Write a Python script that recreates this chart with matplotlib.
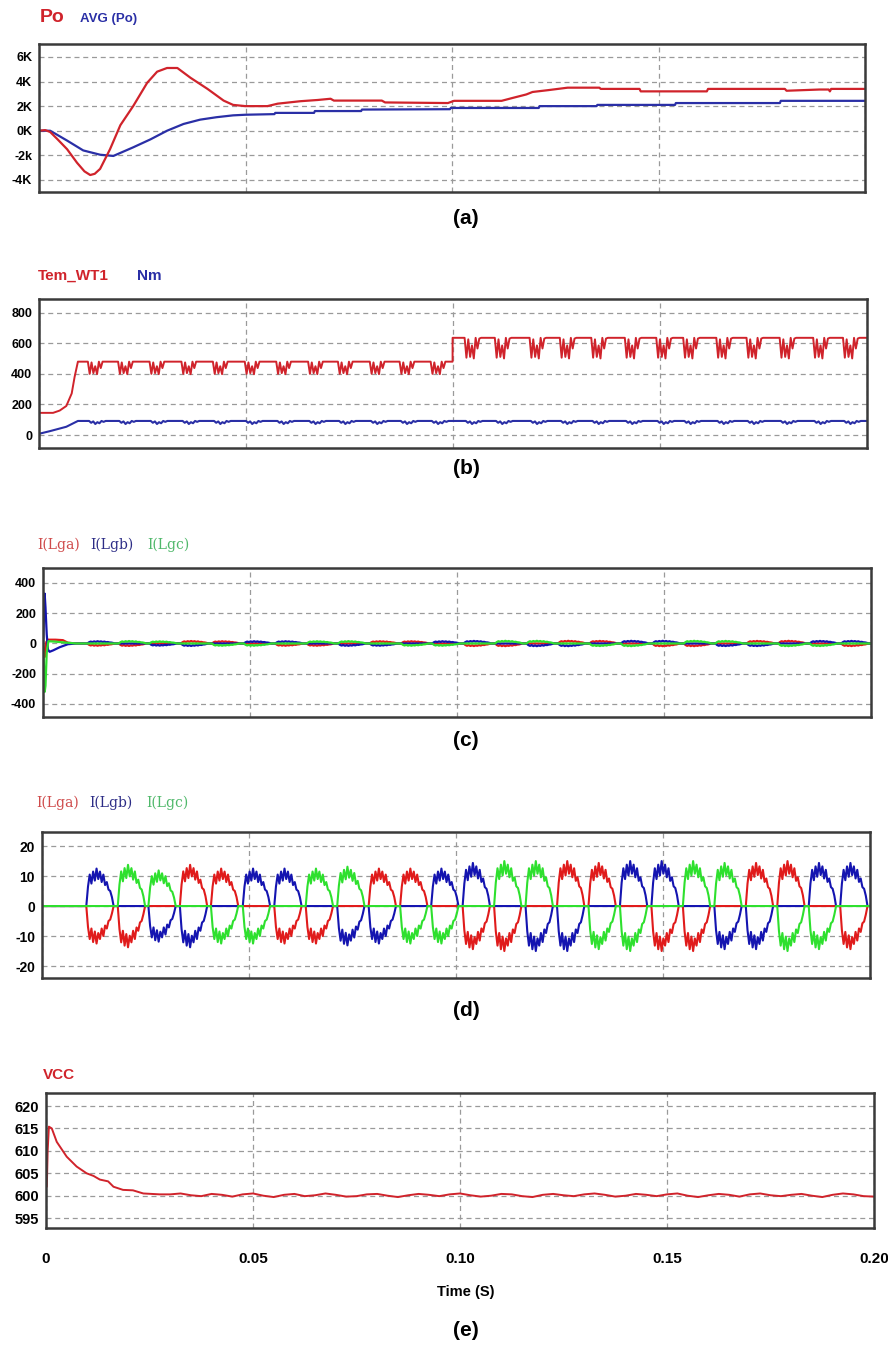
import numpy as np
import matplotlib
matplotlib.use("Agg")
import matplotlib.pyplot as plt

# ---------------- data ----------------
# (a) output power Po and its running average (W)
po_t = [0.0, 0.0015, 0.0027, 0.0045, 0.0068, 0.0092, 0.0110, 0.0124, 0.0135, 0.0148,
        0.0172, 0.0197, 0.0228, 0.0262, 0.0286, 0.0310, 0.0335, 0.0367, 0.0408, 0.0447,
        0.0470, 0.0500, 0.0553, 0.0578, 0.0633, 0.0675, 0.0706, 0.0714, 0.0830, 0.0838,
        0.0990, 0.1005, 0.1120, 0.1145, 0.1180, 0.1195, 0.1233, 0.1280, 0.1357, 0.1360,
        0.1454, 0.1457, 0.1617, 0.1620, 0.1806, 0.1810, 0.1890, 0.1912, 0.1915, 0.1918, 0.2000]
po_v = [0, 50, -100, -700, -1500, -2600, -3300, -3600, -3500, -3100,
        -1500, 450, 2000, 3900, 4800, 5100, 5100, 4300, 3400, 2450,
        2100, 2000, 2000, 2200, 2400, 2500, 2600, 2450, 2450, 2300,
        2250, 2430, 2430, 2650, 2950, 3150, 3300, 3500, 3500, 3400,
        3400, 3200, 3200, 3400, 3400, 3250, 3350, 3350, 3200, 3400, 3400]
avg_t = [0.0, 0.0027, 0.0068, 0.0107, 0.0148, 0.0180, 0.0228, 0.0270, 0.0310, 0.0350,
         0.0390, 0.0430, 0.0470, 0.0500, 0.0570, 0.0572, 0.0666, 0.0668, 0.0780, 0.0782,
         0.0995, 0.0997, 0.1210, 0.1212, 0.1350, 0.1352, 0.1540, 0.1542, 0.1794, 0.1796, 0.2000]
avg_v = [0, 0, -800, -1600, -1950, -2050, -1350, -700, 0, 550,
         900, 1100, 1250, 1300, 1350, 1450, 1450, 1600, 1600, 1720,
         1750, 1850, 1850, 2000, 2000, 2100, 2100, 2250, 2250, 2430, 2430]
a_ticks = [-4000, -2000, 0, 2000, 4000, 6000]
a_ticklabels = ["-4K", "-2k", "0K", "2K", "4K", "6K"]

# (b) electromagnetic torque Tem_WT1 and speed Nm
tem_start_t = [0.0, 0.0034, 0.0050, 0.0066, 0.0079, 0.0086, 0.0094]
tem_start_v = [145, 145, 160, 190, 272, 380, 480]
tem_levels = [480, 636]          # plateau before / after the step
tem_step_t = 0.0999
tem_burst_t = [0.0118, 0.0191, 0.0267, 0.0344, 0.0420, 0.0497, 0.0573, 0.0650, 0.0722,
               0.0799, 0.0871, 0.0946, 0.1028, 0.1101, 0.1185, 0.1258, 0.1334, 0.1415,
               0.1491, 0.1556, 0.1636, 0.1709, 0.1789, 0.1870, 0.1942]
tem_dip_pre = [0, -80, -5, -75, -30, -82, 0, -42, 0, 0]
tem_dip_post = [0, -130, -10, -125, -50, -135, 0, -70, -5, 0]
tem_burst_w = 0.0040
nm_start_t = [0.0, 0.0026, 0.0066, 0.0094]
nm_start_v = [8, 25, 54, 92]
nm_level = 92
nm_dip = [0, -12, -3, -20, -8, -15, 0, -6, 0]
b_ticks = [0, 200, 400, 600, 800]

# (c)/(d) three-phase currents: six-step bursts
burst_t = [0.0107, 0.0183, 0.0257, 0.0333, 0.0408, 0.0485, 0.0561, 0.0637, 0.0713,
           0.0789, 0.0865, 0.0940, 0.1016, 0.1092, 0.1168, 0.1244, 0.1320, 0.1396,
           0.1472, 0.1548, 0.1624, 0.1700, 0.1776, 0.1852, 0.1928]
burst_upper = "BGGRRBBGGRRBBGGRRBBGGRRBB"
burst_lower = "RRBBGGRRBBGGRRBBGGRRBBGGR"
burst_amp = [1.0, 1.1, 0.95, 1.1, 1.0, 1.0, 1.0, 1.0, 1.05, 1.0, 1.0, 1.0,
             1.15, 1.2, 1.2, 1.2, 1.15, 1.2, 1.2, 1.2, 1.15, 1.15, 1.2, 1.15, 1.15]
up_tpl = [0, 6.5, 10.5, 7.5, 11.5, 8.5, 12.5, 9, 11.5, 8, 10.5, 7, 8, 5.5, 5, 3, 0]
lo_tpl = [0, -7, -11, -7.5, -12, -8.5, -12.5, -9, -11, -7.5, -10, -6.5, -7.5, -5, -4.5, -2.5, 0]
burst_w = 0.0066
c_red_t = [0, 0.0002, 0.0004, 0.0008, 0.0012, 0.0030, 0.0048, 0.0060, 0.0080]
c_red_v = [0, -60, -90, 10, 25, 25, 22, 5, 0]
c_blue_t = [0, 0.0002, 0.0004, 0.0006, 0.0009, 0.0012, 0.0016, 0.0025, 0.0040, 0.0060, 0.0080]
c_blue_v = [0, 150, 330, 240, 60, -40, -55, -45, -25, -5, 0]
c_green_t = [0, 0.0002, 0.0004, 0.0006, 0.0009, 0.0013, 0.0030, 0.0060, 0.0080]
c_green_v = [0, -120, -320, -280, -60, 15, 12, 5, 0]
c_scale = 1.2
c_ticks = [-400, -200, 0, 200, 400]
d_ticks = [-20, -10, 0, 10, 20]

# (e) DC-link voltage VCC
vcc_t = [0.0, 0.0002, 0.0004, 0.0007, 0.0014, 0.0026, 0.0050, 0.0074, 0.0098, 0.0115,
         0.0130, 0.0150, 0.0163, 0.0186, 0.0210, 0.0235, 0.0275]
vcc_v = [602, 602, 610, 615.4, 615, 612, 608.7, 606.5, 605, 604.4,
         603.6, 603.2, 602, 601.3, 601.2, 600.5, 600.3]
vcc_tail = [600.3, 600.5, 600.1, 599.9, 600.4, 600.2, 599.8, 600.3, 600.5, 600.0,
            599.7, 600.2, 600.4, 599.9, 600.1, 600.5, 600.2, 599.8, 599.9, 600.3,
            600.4, 600.0, 599.7, 600.1, 600.4, 600.2, 599.9, 600.3, 600.5, 600.1,
            599.8, 600.0, 600.4, 600.3, 599.9, 599.7, 600.2, 600.4, 600.1, 599.9,
            600.3, 600.5, 600.2, 599.8, 600.0, 600.4, 600.2, 599.9, 600.3, 600.5,
            600.0, 599.7, 600.1, 600.4, 600.2, 599.8, 600.3, 600.5, 600.1, 599.9,
            600.2, 600.4, 600.0, 599.7, 600.2, 600.5, 600.3, 599.9, 599.8]
e_ticks = [595, 600, 605, 610, 615, 620]
x_ticks = [0, 0.05, 0.10, 0.15, 0.20]
x_ticklabels = ["0", "0.05", "0.10", "0.15", "0.20"]

# ---------------- figure ----------------
W, H = 888, 1347
fig = plt.figure(figsize=(W / 100, H / 100), dpi=100)
SANS = "Liberation Sans"
RED = "#d0232b"
BLUE = "#2a2fa6"
PR, PB, PG = "#e01b1b", "#1414b0", "#2ee02e"


def ax_at(l, r, t, b):
    return fig.add_axes([l / W, 1 - b / H, (r - l) / W, (b - t) / H])


def ftext(x, y, s, **kw):
    kw.setdefault("va", "center")
    fig.text(x / W, 1 - y / H, s, **kw)


def style(ax, ylim, yticks, ylabels, fs):
    ax.set_xlim(0, 0.2)
    ax.set_ylim(*ylim)
    ax.set_xticks(x_ticks)
    ax.set_xticklabels([])
    ax.set_yticks(yticks)
    ax.set_yticklabels(ylabels, fontsize=fs, fontweight="bold", family=SANS)
    ax.tick_params(length=0, pad=5)
    ax.grid(True, ls=(0, (4, 3)), color="#9a9a9a", lw=0.9)
    ax.set_axisbelow(True)
    for s in ax.spines.values():
        s.set_color("#3a3a3a")
        s.set_linewidth(1.8)


def phase_series(ph):
    ts, vs = [], []
    for s, u, l, a in zip(burst_t, burst_upper, burst_lower, burst_amp):
        tt = s + np.linspace(0, burst_w, len(up_tpl))
        if ph == u:
            vals = np.array(up_tpl) * a
        elif ph == l:
            vals = np.array(lo_tpl) * a
        else:
            vals = np.zeros(len(up_tpl))
        ts.extend(tt)
        vs.extend(vals)
    ts.append(0.2)
    vs.append(0.0)
    return np.array(ts), np.array(vs)


# ---- (a)
ax = ax_at(39, 865, 44, 192)
style(ax, (-4980, 7050), a_ticks, a_ticklabels, 9)
ax.plot(avg_t, avg_v, color=BLUE, lw=1.6)
ax.plot(po_t, po_v, color=RED, lw=1.6)
ftext(40, 18, "Po", color=RED, fontsize=14, fontweight="bold", family=SANS)
ftext(80, 19, "AVG (Po)", color=BLUE, fontsize=9.5, fontweight="bold", family=SANS)
ftext(466, 218, "(a)", ha="center", fontsize=15, fontweight="bold", family=SANS)

# ---- (b)
ax = ax_at(39, 867, 299, 448)
style(ax, (-85, 890), b_ticks, [str(v) for v in b_ticks], 9)
tt, vv = list(tem_start_t), list(tem_start_v)
nt, nv = list(nm_start_t), list(nm_start_v)
for s in tem_burst_t:
    pre = s < tem_step_t
    if s > tem_step_t and tt[-1] < tem_step_t:
        tt += [tem_step_t, tem_step_t]
        vv += [tem_levels[0], tem_levels[1]]
    lvl = tem_levels[0] if pre else tem_levels[1]
    dip = tem_dip_pre if pre else tem_dip_post
    tt += list(s + np.linspace(0, tem_burst_w, len(dip)))
    vv += [lvl + d for d in dip]
    nt += list(s + 0.0003 + np.linspace(0, tem_burst_w, len(nm_dip)))
    nv += [nm_level + d for d in nm_dip]
tt.append(0.2); vv.append(tem_levels[1])
nt.append(0.2); nv.append(nm_level)
ax.plot(nt, nv, color=BLUE, lw=1.5)
ax.plot(tt, vv, color=RED, lw=1.4)
ftext(38, 276, "Tem_WT1", color=RED, fontsize=11, fontweight="bold", family=SANS)
ftext(137, 276, "Nm", color=BLUE, fontsize=11, fontweight="bold", family=SANS)
ftext(466, 468, "(b)", ha="center", fontsize=15, fontweight="bold", family=SANS)

# ---- (c)
ax = ax_at(43, 871, 568, 717)
style(ax, (-486, 499), c_ticks, [str(v) for v in c_ticks], 9)
for ph, col, t0, v0 in (("R", PR, c_red_t, c_red_v), ("B", PB, c_blue_t, c_blue_v),
                        ("G", PG, c_green_t, c_green_v)):
    bt, bv = phase_series(ph)
    ax.plot(np.concatenate([t0, bt]), np.concatenate([v0, bv * c_scale]), color=col, lw=1.6)
for x, s, c in ((37, "I(Lga)", "#cf4a4a"), (90, "I(Lgb)", "#2c2c86"), (147, "I(Lgc)", "#4fb86a")):
    ftext(x, 545, s, color=c, fontsize=10, family="DejaVu Serif")
ftext(466, 740, "(c)", ha="center", fontsize=15, fontweight="bold", family=SANS)

# ---- (d)
ax = ax_at(42, 870, 832, 978)
style(ax, (-24, 24.7), d_ticks, [str(v) for v in d_ticks], 10)
for ph, col in (("R", PR), ("B", PB), ("G", PG)):
    bt, bv = phase_series(ph)
    ax.plot(np.concatenate([[0.0], bt]), np.concatenate([[0.0], bv]), color=col, lw=1.5)
for x, s, c in ((36, "I(Lga)", "#cf4a4a"), (89, "I(Lgb)", "#2c2c86"), (146, "I(Lgc)", "#4fb86a")):
    ftext(x, 803, s, color=c, fontsize=10, family="DejaVu Serif")
ftext(466, 1010, "(d)", ha="center", fontsize=15, fontweight="bold", family=SANS)

# ---- (e)
ax = ax_at(46, 874, 1093, 1228)
style(ax, (592.8, 622.9), e_ticks, [str(v) for v in e_ticks], 10.5)
et = np.concatenate([vcc_t, np.linspace(0.030, 0.2, len(vcc_tail))])
ev = np.concatenate([vcc_v, vcc_tail])
ax.plot(et, ev, color=RED, lw=1.4)
ax.set_xticklabels(x_ticklabels, fontsize=11, fontweight="bold", family=SANS)
ax.tick_params(axis="x", pad=17)
ftext(43, 1075, "VCC", color=RED, fontsize=11, fontweight="bold", family=SANS)
ftext(466, 1292, "Time (S)", ha="center", fontsize=10.5, fontweight="bold", family=SANS)
ftext(466, 1330, "(e)", ha="center", fontsize=15, fontweight="bold", family=SANS)

fig.savefig("out.png", dpi=100)
